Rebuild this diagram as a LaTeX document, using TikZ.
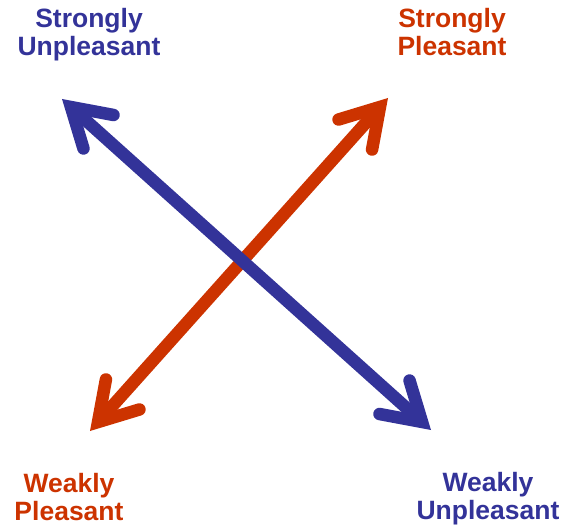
\documentclass[tikz,border=0pt]{standalone}
\usepackage{fontspec}
\setmainfont{Liberation Sans}
\usetikzlibrary{arrows.meta}
\definecolor{ublue}{HTML}{333399}
\definecolor{pred}{HTML}{CC3300}
\tikzset{
  headtip/.tip={Straight Barb[length=37pt,width=45pt,line join=miter,line cap=round]},
  bigarrow/.style={line width=12.5pt, headtip-headtip},
  lbl/.style={font=\fontsize{26.5pt}{28pt}\selectfont\bfseries, align=center, inner sep=0pt, anchor=north}
}
\begin{document}
\begin{tikzpicture}[x=1pt,y=-1pt]
\useasboundingbox (0,0) rectangle (565,529);
\coordinate (redtop) at (388,98);
\coordinate (redbot) at (90,431);
\coordinate (bluetop) at (62,99);
\coordinate (bluebot) at (431,430);
\draw[bigarrow, pred] (redbot) -- (redtop);
\draw[bigarrow, ublue] (bluetop) -- (bluebot);
\node[lbl, text=ublue] (su) at (89,8) {Strongly\\Unpleasant};
\node[lbl, text=pred] (sp) at (452,8) {Strongly\\Pleasant};
\node[lbl, text=pred] (wp) at (69,473) {Weakly\\Pleasant};
\node[lbl, text=ublue] (wu) at (488,472) {Weakly\\Unpleasant};
\end{tikzpicture}
\end{document}
